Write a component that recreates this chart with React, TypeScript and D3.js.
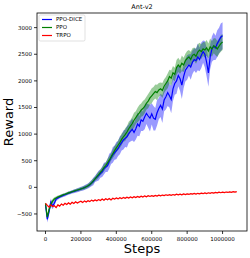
import * as d3 from 'd3';

const W = 250;
const H = 258;
const margin = { left: 37, right: 3, top: 13, bottom: 27 };

const STEP = 10000;

// PPO-DICE mean reward, one value every 10000 steps
const diceMean = [
  -330, -600, -450, -280, -350, -300, -220, -200, -180, -165,
  -150, -140, -125, -110, -100, -85, -75, -65, -55, -45,
  -30, -20, -5, 10, 25, 50, 80, 110, 160, 190,
  220, 260, 290, 350, 380, 410, 490, 550, 610, 650,
  690, 730, 790, 840, 890, 920, 950, 1010, 1050, 1090,
  1030, 1100, 1190, 1150, 1270, 1240, 1320, 1390, 1340, 1300,
  1380, 1300, 1280, 1400, 1480, 1540, 1470, 1640, 1700, 1780,
  1720, 1650, 1850, 1950, 2000, 2100, 2040, 1920, 2080, 2200,
  2250, 2300, 2260, 2350, 2400, 2380, 2450, 2400, 2480, 2550,
  2500, 2350, 2150, 2450, 2600, 2650, 2620, 2700, 2760, 2820,
  2850,
];
const diceStd = [
  40, 60, 80, 70, 60, 50, 40, 35, 30, 30,
  30, 30, 30, 30, 30, 32, 34, 36, 38, 40,
  40, 42, 44, 46, 48, 55, 60, 70, 60, 75,
  90, 80, 95, 110, 90, 120, 140, 110, 150, 130,
  160, 140, 170, 150, 180, 160, 200, 170, 190, 210,
  180, 200, 220, 190, 210, 180, 230, 200, 220, 250,
  200, 230, 210, 240, 200, 220, 260, 210, 240, 250,
  220, 260, 230, 210, 240, 200, 230, 260, 220, 210,
  230, 200, 240, 220, 210, 230, 250, 220, 240, 210,
  250, 270, 260, 230, 240, 260, 230, 250, 240, 260,
  250,
];

// PPO mean reward
const ppoMean = [
  -300, -560, -420, -320, -260, -220, -200, -180, -170, -155,
  -140, -130, -118, -105, -95, -82, -72, -60, -50, -40,
  -30, -18, -5, 10, 30, 55, 85, 120, 160, 200,
  240, 280, 320, 370, 410, 460, 510, 570, 630, 690,
  740, 790, 840, 900, 950, 990, 1040, 1100, 1150, 1200,
  1260, 1310, 1360, 1400, 1450, 1480, 1520, 1580, 1620, 1680,
  1720, 1760, 1800, 1780, 1830, 1850, 1820, 1900, 1950, 2000,
  2080, 2050, 2150, 2120, 2250, 2300, 2260, 2330, 2300, 2380,
  2420, 2450, 2400, 2480, 2500, 2460, 2540, 2580, 2550, 2600,
  2580, 2620, 2560, 2640, 2600, 2660, 2640, 2600, 2650, 2700,
  2730,
];
const ppoStd = [
  30, 50, 60, 50, 40, 35, 30, 28, 26, 25,
  25, 25, 25, 25, 25, 25, 26, 27, 28, 30,
  30, 32, 34, 36, 38, 40, 45, 50, 46, 55,
  60, 52, 64, 70, 58, 75, 80, 70, 85, 90,
  80, 95, 100, 110, 95, 120, 110, 130, 115, 125,
  140, 120, 135, 145, 125, 140, 130, 120, 135, 125,
  140, 125, 130, 145, 130, 120, 140, 130, 125, 140,
  130, 145, 130, 125, 140, 135, 125, 145, 135, 130,
  140, 130, 145, 135, 125, 140, 150, 135, 140, 130,
  145, 150, 140, 155, 145, 140, 160, 150, 145, 155,
  150,
];

// TRPO mean reward
const trpoMean = [
  -300, -340, -370, -330, -360, -345, -380, -330, -352, -312,
  -334, -300, -322, -292, -316, -280, -302, -272, -296, -275,
  -262, -286, -255, -274, -250, -268, -240, -258, -236, -252,
  -230, -248, -221, -242, -214, -232, -210, -236, -206, -222,
  -200, -217, -194, -212, -190, -206, -186, -201, -181, -196,
  -176, -191, -172, -186, -167, -181, -160, -178, -158, -171,
  -155, -168, -151, -163, -148, -158, -145, -156, -140, -152,
  -138, -149, -135, -146, -130, -142, -128, -139, -125, -136,
  -122, -133, -118, -128, -115, -126, -112, -122, -108, -119,
  -105, -116, -102, -111, -98, -108, -95, -104, -92, -101,
  -90, -98, -88, -96, -85, -93, -82, -90, -80,
];
const trpoStd = trpoMean.map(() => 12);

const seriesNames = ['PPO-DICE', 'PPO', 'TRPO'];
const seriesColors = ['#0000ff', '#008000', '#ff0000'];

const yTicks = [-500, 0, 500, 1000, 1500, 2000, 2500, 3000];
const xTicks = [0, 200000, 400000, 600000, 800000, 1000000];

type Pt = { s: number; m: number; sd: number };
const toPts = (mean: number[], sd: number[]): Pt[] =>
  mean.map((m, i) => ({ s: i * STEP, m, sd: sd[i] }));

const series = [
  toPts(diceMean, diceStd),
  toPts(ppoMean, ppoStd),
  toPts(trpoMean, trpoStd),
];

export default function App() {
  const x = d3
    .scaleLinear()
    .domain([-48000, 1138000])
    .range([margin.left, W - margin.right]);
  const y = d3
    .scaleLinear()
    .domain([-820, 3275])
    .range([H - margin.bottom, margin.top]);

  const line = d3
    .line<Pt>()
    .x((d) => x(d.s))
    .y((d) => y(d.m));
  const area = d3
    .area<Pt>()
    .x((d) => x(d.s))
    .y0((d) => y(d.m - d.sd))
    .y1((d) => y(d.m + d.sd));

  const font = 'DejaVu Sans, sans-serif';
  const x0 = margin.left;
  const x1 = W - margin.right;
  const y0 = H - margin.bottom;
  const y1 = margin.top;

  return (
    <svg
      width={W}
      height={H}
      style={{ position: 'absolute', left: 0, top: 0, background: '#fff' }}
      fontFamily={font}
    >
      <rect x={0} y={0} width={W} height={H} fill="#fff" />
      {series.map((pts, i) => (
        <path
          key={'a' + i}
          d={area(pts) || ''}
          fill={seriesColors[i]}
          fillOpacity={i === 2 ? 0.25 : 0.4}
          stroke="none"
        />
      ))}
      {series.map((pts, i) => (
        <path
          key={'l' + i}
          d={line(pts) || ''}
          fill="none"
          stroke={seriesColors[i]}
          strokeWidth={1.2}
        />
      ))}
      <rect x={x0} y={y1} width={x1 - x0} height={y0 - y1} fill="none" stroke="#000" strokeWidth={0.8} />
      {yTicks.map((t) => (
        <g key={'y' + t}>
          <line x1={x0 - 3} x2={x0} y1={y(t)} y2={y(t)} stroke="#000" strokeWidth={0.8} />
          <text x={x0 - 5} y={y(t)} dy="0.35em" fontSize={5.5} textAnchor="end" fill="#000">
            {t < 0 ? '\u2212' + Math.abs(t) : t}
          </text>
        </g>
      ))}
      {xTicks.map((t) => (
        <g key={'x' + t}>
          <line x1={x(t)} x2={x(t)} y1={y0} y2={y0 + 3} stroke="#000" strokeWidth={0.8} />
          <text x={x(t)} y={y0 + 9.5} fontSize={5.5} textAnchor="middle" fill="#000">
            {t}
          </text>
        </g>
      ))}
      <text x={(x0 + x1) / 2} y={9} fontSize={6.5} textAnchor="middle" fill="#000">
        Ant-v2
      </text>
      <text x={(x0 + x1) / 2} y={253} fontSize={13} textAnchor="middle" fill="#000">
        Steps
      </text>
      <text
        transform={`translate(13, ${(y0 + y1) / 2}) rotate(-90)`}
        fontSize={13}
        textAnchor="middle"
        fill="#000"
      >
        Reward
      </text>
      <g>
        <rect x={39} y={15} width={46} height={26} fill="#fff" fillOpacity={0.8} stroke="#ccc" strokeWidth={0.6} rx={1.5} />
        {seriesNames.map((n, i) => (
          <g key={n}>
            <line x1={42} x2={52} y1={19.5 + i * 8} y2={19.5 + i * 8} stroke={seriesColors[i]} strokeWidth={1.2} />
            <text x={56} y={19.5 + i * 8} dy="0.35em" fontSize={5.5} fill="#000">
              {n}
            </text>
          </g>
        ))}
      </g>
    </svg>
  );
}
